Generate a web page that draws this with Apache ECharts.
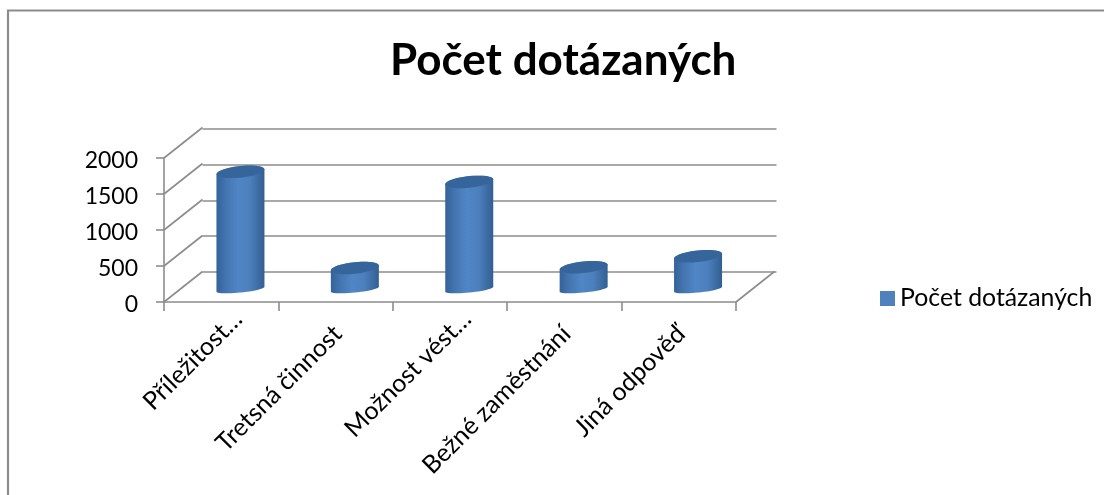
<!DOCTYPE html>
<html>
<head>
<meta charset="utf-8">
<style>
  html, body { margin: 0; padding: 0; background: #fff; }
  #chart { width: 1104px; height: 495px; }
</style>
<script src="https://cdn.jsdelivr.net/npm/echarts@6/dist/echarts.min.js"></script>
</head>
<body>
<div id="chart"></div>
<script>
const titleText = 'Počet dotázaných';
const seriesName = 'Počet dotázaných';
const categories = ['Příležitost…', 'Tretsná činnost', 'Možnost vést…', 'Bežné zaměstnání', 'Jiná odpověď'];
const values = [1630, 295, 1490, 305, 458];
const yTicks = [0, 500, 1000, 1500, 2000];

const FONT = 'Lato, "Open Sans", sans-serif';
const GRID_LINE = '#8c8c8c';
const BLUE = '#4f81bd';
// the 3d look: front wall is grid 0, back wall is grid 1, shifted by depth
const depthX = 38.5;
const depthY = -30.5;

const chart = echarts.init(document.getElementById('chart'), null, { renderer: 'canvas' });

// sampled tilted ellipse, t from t0 to t1
function arc(cx, cy, b, t0, t1) {
    const pts = [];
    for (let i = 0; i <= 24; i++) {
        const t = t0 + (t1 - t0) * i / 24;
        pts.push([cx + 24 * Math.cos(t), cy + b * Math.sin(t) - 2.4 * Math.cos(t)]);
    }
    return pts;
}

const bodyFill = new echarts.graphic.LinearGradient(0, 0, 1, 0, [
    { offset: 0, color: '#34629a' },
    { offset: 0.2, color: '#4475b0' },
    { offset: 0.45, color: '#5086c6' },
    { offset: 0.7, color: '#4c7fbc' },
    { offset: 1, color: '#325f93' }
]);

function renderCylinder(params, api) {
    const base = api.coord([api.value(0), 0]);
    const top = api.coord([api.value(0), api.value(1)]);
    const cx = base[0] + depthX / 2;
    const by = base[1] + 0.42 * depthY;
    const ty = top[1] + 0.42 * depthY;
    const body = arc(cx, by, 3.4, 0, Math.PI).concat(arc(cx, ty, 5.8, Math.PI, 2 * Math.PI));
    return {
        type: 'group',
        children: [
            { type: 'polygon', shape: { points: body }, style: { fill: bodyFill } },
            { type: 'polygon', shape: { points: arc(cx, ty, 5.8, 0, 2 * Math.PI) }, style: { fill: '#36659b' } }
        ]
    };
}

// left wall + floor diagonals, third value says which edge of the band
function renderDiagonal(params, api) {
    const p = api.coord([api.value(0), api.value(1)]);
    const x = p[0] + api.value(2) * api.size([1, 0])[0] / 2;
    return {
        type: 'line',
        shape: { x1: x, y1: p[1], x2: x + depthX, y2: p[1] + depthY },
        style: { stroke: GRID_LINE, lineWidth: 1.6 }
    };
}

const diagonals = yTicks.map(v => [0, v, -1]).concat([[categories.length - 1, 0, 1]]);

chart.setOption({
    animation: false,
    backgroundColor: '#fff',
    title: {
        text: titleText,
        left: 385,
        top: 34,
        textStyle: { fontFamily: FONT, fontSize: 44, fontWeight: 'bold', color: '#000' }
    },
    legend: {
        data: [{ name: seriesName, icon: 'rect' }],
        left: 875,
        top: 281,
        itemWidth: 15,
        itemHeight: 15,
        itemGap: 6,
        textStyle: { fontFamily: FONT, fontSize: 24.8, color: '#000' }
    },
    grid: [
        { left: 164, right: 368, top: 158, bottom: 193 },
        { left: 202.5, right: 327.5, top: 129, bottom: 223.5 }
    ],
    xAxis: [
        {
            type: 'category',
            gridIndex: 0,
            data: categories,
            axisLine: { lineStyle: { color: GRID_LINE, width: 1.6 } },
            axisTick: { show: true, length: 9, lineStyle: { color: GRID_LINE, width: 1.6 } },
            axisLabel: {
                interval: 0,
                rotate: 45,
                margin: -4,
                fontFamily: FONT,
                fontSize: 25,
                color: '#000',
                formatter: v => v.endsWith('…') ? '{t|' + v + '}' : '{p|' + v + '}',
                rich: {
                    t: { fontFamily: FONT, fontSize: 25, color: '#000', padding: [48, 0, 0, 0] },
                    p: { fontFamily: FONT, fontSize: 25, color: '#000', padding: [48, 21, 0, 0] }
                }
            }
        },
        {
            type: 'category',
            gridIndex: 1,
            data: categories,
            axisLine: { show: false },
            axisTick: { show: false },
            axisLabel: { show: false }
        }
    ],
    yAxis: [
        {
            type: 'value',
            gridIndex: 0,
            min: 0,
            max: 2000,
            interval: 500,
            axisLine: { show: true, lineStyle: { color: GRID_LINE, width: 1.6 } },
            axisTick: { show: true, length: 8, lineStyle: { color: GRID_LINE, width: 1.6 } },
            splitLine: { show: false },
            axisLabel: {
                margin: 26,
                fontFamily: FONT,
                color: '#000',
                formatter: v => '{n|' + v + '}',
                rich: { n: { fontFamily: FONT, fontSize: 23, color: '#000', padding: [5, 0, 0, 0] } }
            }
        },
        {
            type: 'value',
            gridIndex: 1,
            min: 0,
            max: 2000,
            interval: 500,
            axisLine: { show: false },
            axisTick: { show: false },
            axisLabel: { show: false },
            splitLine: { show: true, lineStyle: { color: GRID_LINE, width: 1.6 } }
        }
    ],
    graphic: [
        // chart frame, right and bottom edges fall outside the crop
        { type: 'polyline', shape: { points: [[8, 495], [8, 10.5], [1104, 10.5]] }, style: { fill: 'none', stroke: '#8c8c8c', lineWidth: 2.2 }, silent: true }
    ],
    series: [
        {
            type: 'custom',
            xAxisIndex: 0,
            yAxisIndex: 0,
            silent: true,
            clip: false,
            renderItem: renderDiagonal,
            encode: { x: 0, y: 1 },
            data: diagonals,
            z: 1
        },
        {
            name: seriesName,
            type: 'custom',
            xAxisIndex: 0,
            yAxisIndex: 0,
            clip: false,
            renderItem: renderCylinder,
            itemStyle: { color: BLUE },
            encode: { x: 0, y: 1 },
            data: values.map((v, i) => [i, v]),
            z: 3
        }
    ]
});
</script>
</body>
</html>
